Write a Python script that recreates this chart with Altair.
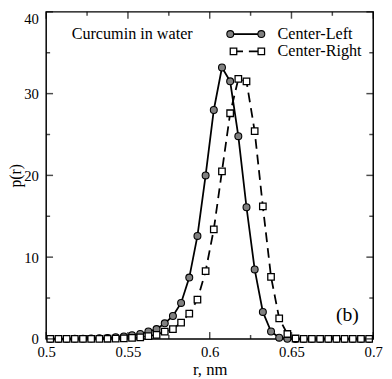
import altair as alt
import pandas as pd

# bin centres (nm)
r_vals = [0.5025, 0.5075, 0.5125, 0.5175, 0.5225, 0.5275, 0.5325, 0.5375, 0.5425, 0.5475,
          0.5525, 0.5575, 0.5625, 0.5675, 0.5725, 0.5775, 0.5825, 0.5875, 0.5925, 0.5975,
          0.6025, 0.6075, 0.6125, 0.6175, 0.6225, 0.6275, 0.6325, 0.6375, 0.6425, 0.6475,
          0.6525, 0.6575, 0.6625, 0.6675, 0.6725, 0.6775, 0.6825, 0.6875, 0.6925, 0.6975]

center_left = [0.0, 0.0, 0.0, 0.02, 0.03, 0.05, 0.08, 0.12, 0.2, 0.3,
               0.45, 0.6, 0.9, 1.2, 1.9, 2.8, 4.4, 7.5, 12.6, 20.0,
               28.0, 33.2, 31.5, 24.8, 16.1, 8.5, 3.3, 0.9, 0.15, 0.02,
               0.0, 0.0, 0.0, 0.0, 0.0, 0.0, 0.0, 0.0, 0.0, 0.0]

center_right = [0.0, 0.0, 0.0, 0.0, 0.0, 0.0, 0.0, 0.02, 0.04, 0.07,
                0.12, 0.2, 0.35, 0.5, 0.9, 1.2, 2.0, 3.1, 4.8, 8.3,
                13.4, 20.5, 27.6, 31.8, 31.5, 25.4, 16.2, 7.6, 2.5, 0.6,
                0.05, 0.0, 0.0, 0.0, 0.0, 0.0, 0.0, 0.0, 0.0, 0.0]

series_names = ["Center-Left", "Center-Right"]
annotation_texts = ["Curcumin in water", "(b)"]

x_ticks = [0.5, 0.55, 0.6, 0.65, 0.7]
x_minor = [0.525, 0.575, 0.625, 0.675]
y_ticks = [0, 10, 20, 30, 40]
y_minor = [5, 15, 25, 35]

W, H = 334, 334
FONT = "Liberation Serif"

df = pd.DataFrame({
    "r": r_vals * 2,
    "p": center_left + center_right,
    "series": [series_names[0]] * len(r_vals) + [series_names[1]] * len(r_vals),
})

xs = alt.Scale(domain=[0.5, 0.7], nice=False, zero=False)
ys = alt.Scale(domain=[0, 40], nice=False)

x_axis = alt.Axis(values=x_ticks, format="~g", grid=False, ticks=False, tickSize=0, domain=False,
                  labelFlush=False, labelOverlap=False, labelPadding=6, labelFontSize=15,
                  labelFont=FONT, labelColor="black", title="r, nm", titleFont=FONT,
                  titleFontSize=17, titleFontWeight="normal", titleColor="black",
                  titleBaseline="alphabetic", titleY=36)
y_axis = alt.Axis(values=y_ticks, grid=False, ticks=False, tickSize=0, domain=False,
                  labelFlush=False, labelOverlap=False, labelPadding=8, labelFontSize=15,
                  labelFont=FONT, labelColor="black",
                  labelBaseline={"condition": {"test": "datum.value == 40", "value": "top"}, "value": "middle"},
                  title="p(r)", titleFont=FONT, titleFontSize=16, titleFontWeight="normal",
                  titleColor="black", titleBaseline="alphabetic", titleX=-26, titleY=167, titleAngle=-90)

base = alt.Chart(df)

cl = base.transform_filter(alt.datum.series == series_names[0])
cr = base.transform_filter(alt.datum.series == series_names[1])

cl_line = cl.mark_line(color="black", strokeWidth=1.8).encode(
    x=alt.X("r:Q", scale=xs, axis=x_axis), y=alt.Y("p:Q", scale=ys, axis=y_axis))
cl_pts = cl.mark_point(shape="circle", filled=True, fill="#808080", stroke="black",
                       strokeWidth=1.1, size=50, opacity=1).encode(
    x=alt.X("r:Q", scale=xs), y=alt.Y("p:Q", scale=ys))
cr_line = cr.mark_line(color="black", strokeWidth=1.8, strokeDash=[10, 6]).encode(
    x=alt.X("r:Q", scale=xs), y=alt.Y("p:Q", scale=ys))
cr_pts = cr.mark_point(shape="square", filled=True, fill="white", stroke="black",
                       strokeWidth=1.3, size=44, opacity=1).encode(
    x=alt.X("r:Q", scale=xs), y=alt.Y("p:Q", scale=ys))

# inward ticks on all four sides
xt_major = pd.DataFrame({"v": x_ticks})
xt_minor = pd.DataFrame({"v": x_minor})
yt_major = pd.DataFrame({"v": y_ticks})
yt_minor = pd.DataFrame({"v": y_minor})

def xtick(d, length, top):
    yv = length / 2 if top else H - length / 2
    return alt.Chart(d).mark_tick(color="black", thickness=1.5, size=length, orient="vertical").encode(
        x=alt.X("v:Q", scale=xs), y=alt.value(yv))

def ytick(d, length, right):
    xv = W - length / 2 if right else length / 2
    return alt.Chart(d).mark_tick(color="black", thickness=1.5, size=length, orient="horizontal").encode(
        y=alt.Y("v:Q", scale=ys), x=alt.value(xv))

ticks = [xtick(xt_major, 7, False), xtick(xt_major, 7, True),
         xtick(xt_minor, 4, False), xtick(xt_minor, 4, True),
         ytick(yt_major, 7, False), ytick(yt_major, 7, True),
         ytick(yt_minor, 4, False), ytick(yt_minor, 4, True)]

# legend & annotations
leg_df = pd.DataFrame({"name": series_names})
one = pd.DataFrame({"a": [0]})

leg_line1 = alt.Chart(one).mark_rule(color="black", strokeWidth=1.8).encode(
    x=alt.value(188), x2=alt.value(220), y=alt.value(22.7))
leg_line2 = alt.Chart(one).mark_rule(color="black", strokeWidth=1.8, strokeDash=[10, 6]).encode(
    x=alt.value(191), x2=alt.value(220), y=alt.value(40.3))
leg_c1 = alt.Chart(one).mark_point(shape="circle", filled=True, fill="#808080", stroke="black",
                                   strokeWidth=1.1, size=50, opacity=1).encode(
    x=alt.value(188), y=alt.value(22.7))
leg_c2 = alt.Chart(one).mark_point(shape="circle", filled=True, fill="#808080", stroke="black",
                                   strokeWidth=1.1, size=50, opacity=1).encode(
    x=alt.value(219.7), y=alt.value(22.7))
leg_s1 = alt.Chart(one).mark_point(shape="square", filled=True, fill="white", stroke="black",
                                   strokeWidth=1.3, size=44, opacity=1).encode(
    x=alt.value(191.3), y=alt.value(40.3))
leg_s2 = alt.Chart(one).mark_point(shape="square", filled=True, fill="white", stroke="black",
                                   strokeWidth=1.3, size=44, opacity=1).encode(
    x=alt.value(219.7), y=alt.value(40.3))
leg_t1 = alt.Chart(leg_df).transform_filter(alt.datum.name == series_names[0]).mark_text(
    align="left", baseline="alphabetic", font=FONT, fontSize=16.5, color="black").encode(
    x=alt.value(236.3), y=alt.value(27.5), text="name:N")
leg_t2 = alt.Chart(leg_df).transform_filter(alt.datum.name == series_names[1]).mark_text(
    align="left", baseline="alphabetic", font=FONT, fontSize=16.5, color="black").encode(
    x=alt.value(236.3), y=alt.value(44.8), text="name:N")

ann_df = pd.DataFrame({"t": annotation_texts})
ann1 = alt.Chart(ann_df).transform_filter(alt.datum.t == annotation_texts[0]).mark_text(
    align="left", baseline="alphabetic", font=FONT, fontSize=16.5, color="black").encode(
    x=alt.value(26), y=alt.value(27.5), text="t:N")
ann2 = alt.Chart(ann_df).transform_filter(alt.datum.t == annotation_texts[1]).mark_text(
    align="left", baseline="alphabetic", font=FONT, fontSize=20, color="black").encode(
    x=alt.value(296), y=alt.value(316), text="t:N")

chart = alt.layer(
    cl_line, cl_pts, cr_line, cr_pts, *ticks,
    leg_line1, leg_line2, leg_c1, leg_c2, leg_s1, leg_s2, leg_t1, leg_t2, ann1, ann2,
).properties(
    width=W, height=H,
    autosize=alt.AutoSizeParams(type="none"),
    padding={"left": 39, "top": 0, "right": 11, "bottom": 37},
    background="white",
).configure_view(stroke="black", strokeWidth=1.5)

chart.save("out.html", embed_options={"renderer": "svg", "actions": False})
